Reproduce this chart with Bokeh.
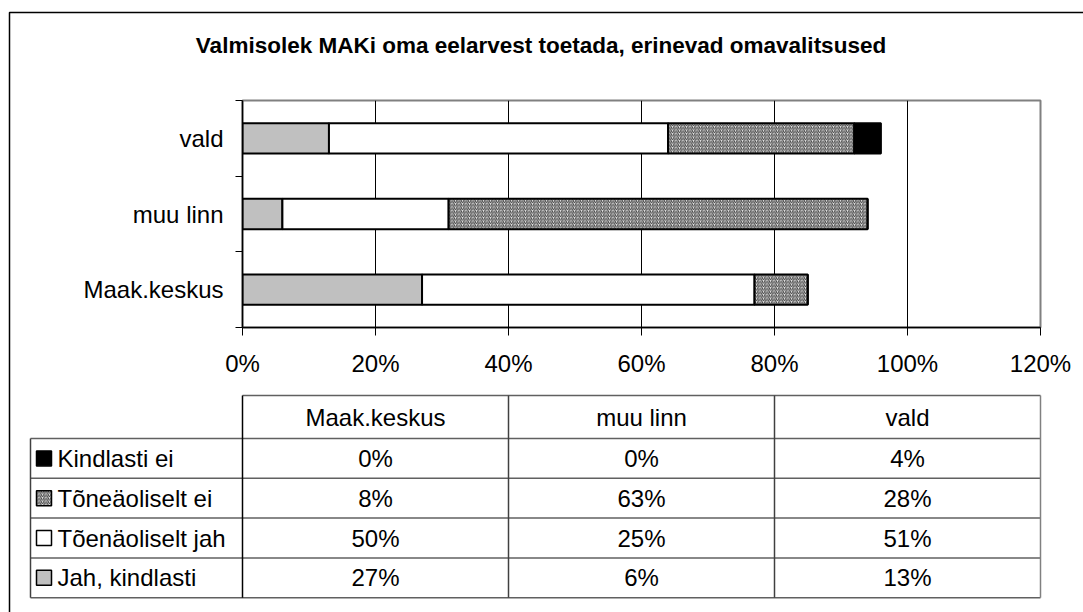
import numpy as np
from bokeh.plotting import figure
from bokeh.models import Range1d, FixedTicker, NumeralTickFormatter
from bokeh.core.properties import value
from bokeh.embed import file_html
from bokeh.resources import INLINE

# ---------------- data ----------------
title = "Valmisolek MAKi oma eelarvest toetada, erinevad omavalitsused"
categories = ["Maak.keskus", "muu linn", "vald"]            # bottom -> top in chart, left -> right in table
series_names = ["Jah, kindlasti", "Tõenäoliselt jah", "Tõneäoliselt ei", "Kindlasti ei"]
jah_kindlasti = [27, 6, 13]
toenaoliselt_jah = [50, 25, 51]
toneaoliselt_ei = [8, 63, 28]
kindlasti_ei = [0, 0, 4]
series_values = [jah_kindlasti, toenaoliselt_jah, toneaoliselt_ei, kindlasti_ei]
x_ticks = [0, 20, 40, 60, 80, 100, 120]   # percent

# ---------------- styles ----------------
FONT = "Liberation Sans"
series_styles = [
    dict(fill_color="#C0C0C0"),
    dict(fill_color="white"),
    dict(fill_color="#e4e4e4", hatch_pattern="right_diagonal_line", hatch_color="#303030",
         hatch_scale=3.5, hatch_weight=0.9),
    dict(fill_color="black"),
]

W, H = 1083, 612
FL, FR, FT, FB = 242, 1040, 100, 327   # frame edges in canvas pixels
XMAX = x_ticks[-1] / 100.0

p = figure(width=W, height=H, output_backend="svg", toolbar_location=None,
           x_range=Range1d(0, XMAX), y_range=Range1d(0, len(categories)),
           min_border_left=FL, min_border_right=W - FR, min_border_top=FT, min_border_bottom=H - FB,
           background_fill_color="white", border_fill_color="white")
# pixel ranges for layout items (title, table, border)
p.extra_x_ranges = {"px": Range1d(FL, FR)}
p.extra_y_ranges = {"px": Range1d(FB, FT)}

p.outline_line_color = "#808080"
p.outline_line_width = 2

# x axis
p.xaxis.ticker = FixedTicker(ticks=[t / 100.0 for t in x_ticks])
p.xaxis.formatter = NumeralTickFormatter(format="0%")
p.xaxis.axis_line_color = "black"
p.xaxis.axis_line_width = 1.5
p.xaxis.major_tick_line_color = "black"
p.xaxis.major_tick_out = 8
p.xaxis.major_tick_in = 0
p.xaxis.minor_tick_line_color = None
p.xaxis.major_label_text_font = FONT
p.xaxis.major_label_text_font_size = "24px"
p.xaxis.major_label_text_color = "black"
p.xaxis.major_label_standoff = 14

# y axis
ypos = [i + 0.5 for i in range(len(categories))]
p.yaxis.ticker = FixedTicker(ticks=ypos, minor_ticks=list(range(len(categories) + 1)))
p.yaxis.major_label_overrides = {y: c for y, c in zip(ypos, categories)}
p.yaxis.axis_line_color = "black"
p.yaxis.axis_line_width = 1.5
p.yaxis.major_tick_line_color = None
p.yaxis.major_tick_out = 7
p.yaxis.minor_tick_line_color = "black"
p.yaxis.minor_tick_out = 7
p.yaxis.minor_tick_in = 0
p.yaxis.major_label_text_font = FONT
p.yaxis.major_label_text_font_size = "24px"
p.yaxis.major_label_text_color = "black"
p.yaxis.major_label_standoff = 12

# grid
p.xgrid.ticker = FixedTicker(ticks=[t / 100.0 for t in x_ticks[1:-1]])
p.xgrid.grid_line_color = "black"
p.xgrid.grid_line_width = 1
p.ygrid.grid_line_color = None

# stacked bars
left = np.zeros(len(categories))
for vals, style in zip(series_values, series_styles):
    v = np.array(vals) / 100.0
    p.hbar(y=ypos, left=left, right=left + v, height=0.4,
           line_color="black", line_width=2, **style)
    left = left + v

# title
p.text(x=[540.5], y=[45], text=[title], x_range_name="px", y_range_name="px",
       text_align="center", text_baseline="middle", text_font=value(FONT),
       text_font_style="bold", text_font_size="22.5px", text_color="black", level="overlay")

# outer chart border
p.line(x=[9, 9, W + 50], y=[H + 50, 12, 12], x_range_name="px", y_range_name="px",
       line_color="black", line_width=1.5, level="overlay")

# ---------------- data table ----------------
ncol = len(categories)
col_edges = [XMAX * i / ncol for i in range(ncol + 1)]
col_centers = [XMAX * (i + 0.5) / ncol for i in range(ncol)]
HDR_TOP = 395
ROW0 = 438
ROWH = 39.8
LEG_LEFT = 30
rows = list(reversed(range(len(series_names))))     # table top -> bottom
nrow = len(rows)
row_lines = [ROW0 + ROWH * k for k in range(nrow + 1)]
row_centers = [ROW0 + ROWH * (k + 0.5) for k in range(nrow)]

# horizontal lines
p.segment(x0=[col_edges[0]], x1=[col_edges[-1]], y0=[HDR_TOP], y1=[HDR_TOP],
          y_range_name="px", line_color="#606060", line_width=1.5, level="overlay")
p.segment(x0=[LEG_LEFT] * len(row_lines), x1=[FR] * len(row_lines), y0=row_lines, y1=row_lines,
          x_range_name="px", y_range_name="px", line_color="#606060", line_width=1.5, level="overlay")
# vertical lines
p.segment(x0=col_edges, x1=col_edges, y0=[HDR_TOP] * len(col_edges), y1=[row_lines[-1]] * len(col_edges),
          y_range_name="px", line_color=["black"] + ["#404040"] * (len(col_edges) - 2) + ["#808080"],
          line_width=1.5, level="overlay")
p.segment(x0=[LEG_LEFT], x1=[LEG_LEFT], y0=[row_lines[0]], y1=[row_lines[-1]],
          x_range_name="px", y_range_name="px", line_color="#404040", line_width=1.5, level="overlay")

# header texts
p.text(x=col_centers, y=[(HDR_TOP + ROW0) / 2] * ncol, text=categories, y_range_name="px",
       text_align="center", text_baseline="middle", text_font=value(FONT),
       text_font_size="24px", text_color="black", level="overlay")

# cell values
cx, cy, ct = [], [], []
for k, si in enumerate(rows):
    for j in range(ncol):
        cx.append(col_centers[j])
        cy.append(row_centers[k])
        ct.append(f"{series_values[si][j]}%")
p.text(x=cx, y=cy, text=ct, y_range_name="px", text_align="center", text_baseline="middle",
       text_font=value(FONT), text_font_size="24px", text_color="black", level="overlay")

# legend keys and labels
for k, si in enumerate(rows):
    p.rect(x=[LEG_LEFT + 13.5], y=[row_centers[k]], width=15, height=15,
           x_range_name="px", y_range_name="px", line_color="black", line_width=1.5,
           level="overlay", **series_styles[si])
p.text(x=[LEG_LEFT + 27] * nrow, y=row_centers, text=[series_names[si] for si in rows],
       x_range_name="px", y_range_name="px", text_align="left", text_baseline="middle",
       text_font=value(FONT), text_font_size="24px", text_color="black", level="overlay")

open("out.html", "w").write(file_html(p, INLINE))
